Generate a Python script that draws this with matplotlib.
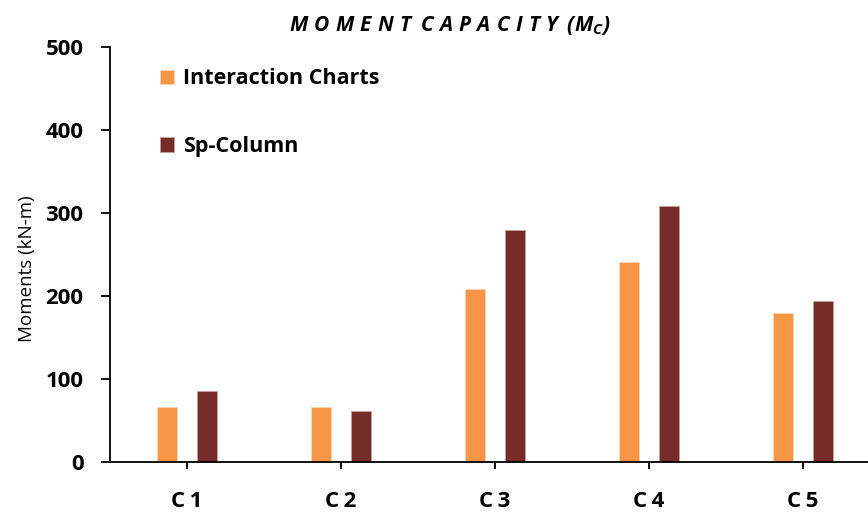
import matplotlib
matplotlib.use("Agg")
import matplotlib.pyplot as plt
import numpy as np

categories = ["C1", "C2", "C3", "C4", "C5"]
interaction_charts = [66, 66, 208, 241, 179]
sp_column = [85, 62, 279, 308, 194]
yticks = [0, 100, 200, 300, 400, 500]

plt.rcParams['font.family'] = ['Open Sans', 'DejaVu Sans']
plt.rcParams['mathtext.fontset'] = 'custom'
plt.rcParams['mathtext.it'] = 'Open Sans:italic:bold'
plt.rcParams['mathtext.rm'] = 'Open Sans:italic:bold'

fig = plt.figure(figsize=(8.68, 5.14), dpi=100)
ax = fig.add_axes([110/868, 1-462/514, 1-110/868, 415/514])

x = np.arange(len(categories))
w = 0.136
off = 0.13
ax.bar(x - off, interaction_charts, w, color="#F79646", edgecolor="#FBD3B5", linewidth=0.6,
       label="Interaction Charts")
ax.bar(x + off, sp_column, w, color="#772C2A", edgecolor="#C9A09F", linewidth=0.6,
       label="Sp-Column")

ax.set_ylim(0, 500)
ax.set_xlim(-0.5, (868-110)/154 - 0.5)
ax.set_yticks(yticks)
ax.set_yticklabels([str(t) for t in yticks], fontsize=16, fontweight='bold')
ax.set_xticks(x)
ax.set_xticklabels(["\u2009".join(c) for c in categories], fontsize=16, fontweight='bold')
ax.tick_params(axis='y', direction='out', length=6.5, width=1.3, pad=12.5)
ax.tick_params(axis='x', direction='out', length=5, width=1.3, pad=16)
for s in ['top', 'right']:
    ax.spines[s].set_visible(False)
for s in ['left', 'bottom']:
    ax.spines[s].set_linewidth(1.3)

ax.set_ylabel("Moments (kN-m)", fontsize=13.5)
ax.yaxis.set_label_coords(-0.097, 0.465)

leg = ax.legend(loc='upper left', bbox_to_anchor=(0.040, 0.995), frameon=False,
                prop={'weight': 'bold', 'size': 15.5}, handlelength=0.65, handleheight=0.65,
                handletextpad=0.45, labelspacing=2.16)

def spaced(word):
    return "\u2009\u200A".join(word)

title = spaced("MOMENT") + " \u2009" + spaced("CAPACITY") + " \u2009(M$_C$)"
fig.text(0.518, 0.951, title, ha='center', va='center',
         fontsize=15, fontweight='bold', style='italic')

fig.savefig("out.png", dpi=100)
